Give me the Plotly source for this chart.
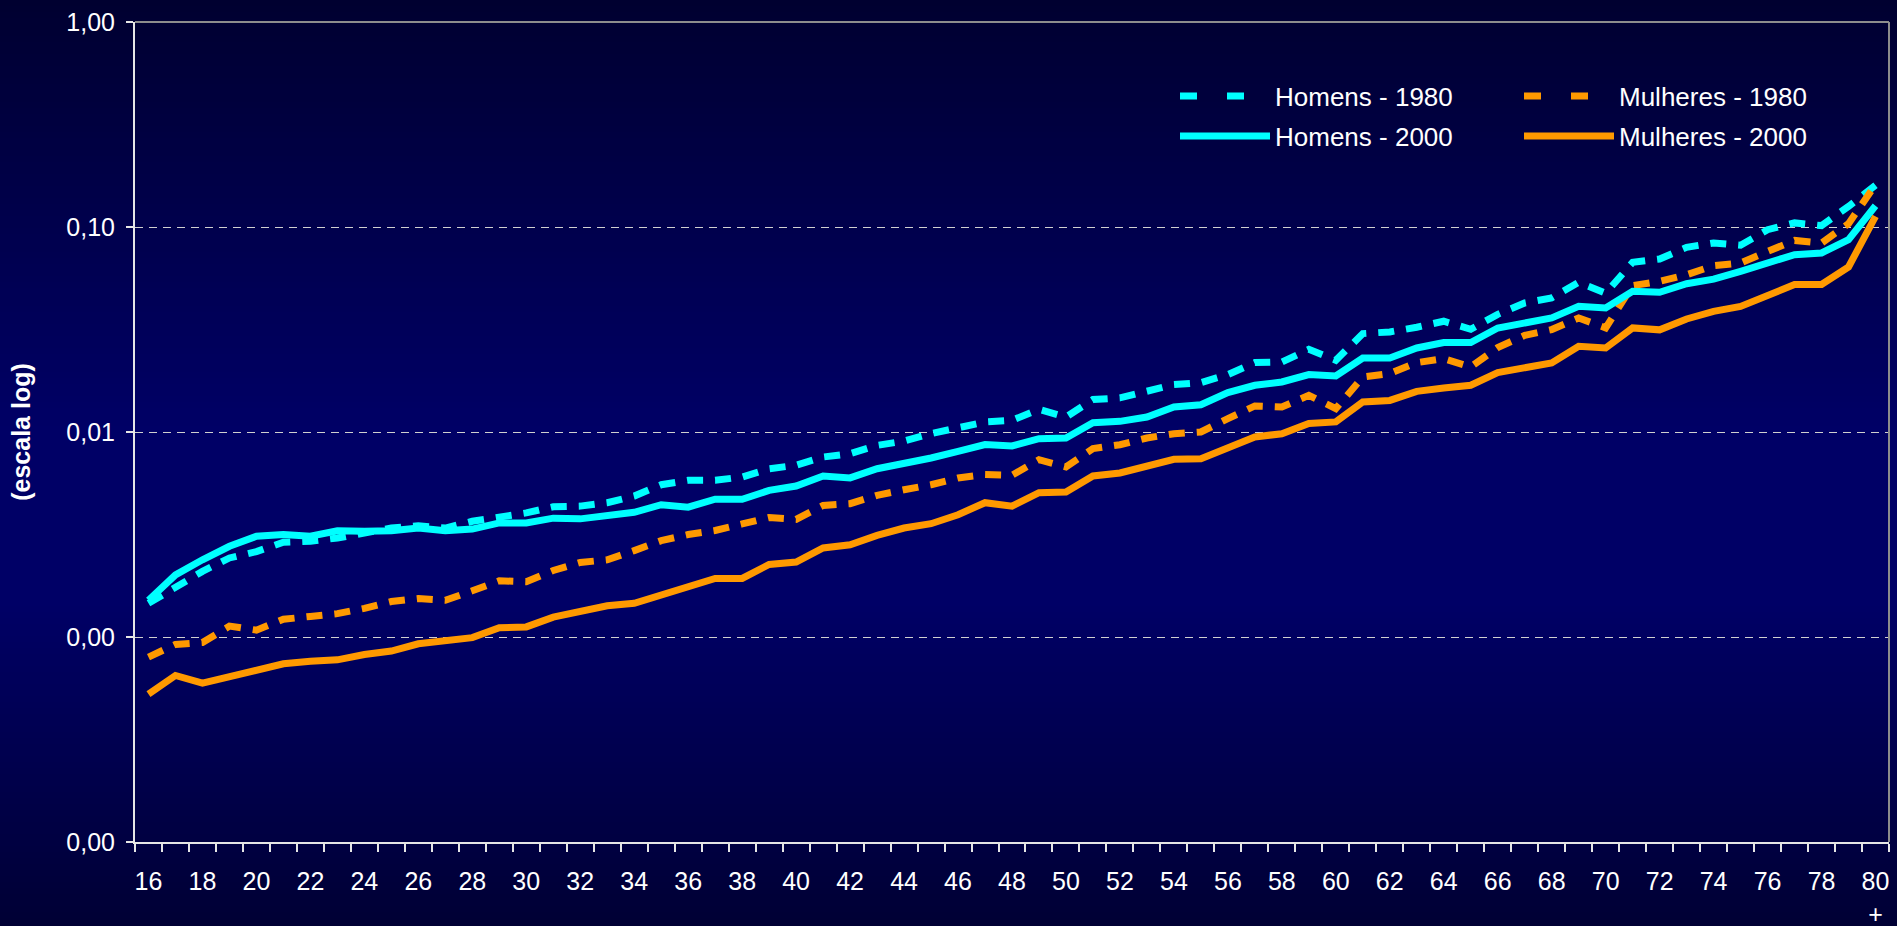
import plotly.graph_objects as go

# ---------------- data ----------------
age_labels = ["16", "17", "18", "19", "20", "21", "22", "23", "24", "25",
              "26", "27", "28", "29", "30", "31", "32", "33", "34", "35",
              "36", "37", "38", "39", "40", "41", "42", "43", "44", "45",
              "46", "47", "48", "49", "50", "51", "52", "53", "54", "55",
              "56", "57", "58", "59", "60", "61", "62", "63", "64", "65",
              "66", "67", "68", "69", "70", "71", "72", "73", "74", "75",
              "76", "77", "78", "79", "80+"]

homens_1980 = [0.00146, 0.00176, 0.00209, 0.00243, 0.00261, 0.00290, 0.00293, 0.00304, 0.00322, 0.00340,
               0.00349, 0.00340, 0.00367, 0.00381, 0.00403, 0.00432, 0.00435, 0.00452, 0.00487, 0.00553,
               0.00581, 0.00581, 0.00603, 0.00662, 0.00688, 0.00755, 0.00784, 0.00860, 0.00903, 0.00982,
               0.01055, 0.01119, 0.01140, 0.01290, 0.01183, 0.01440, 0.01467, 0.01590, 0.01703, 0.01742,
               0.01906, 0.02181, 0.02195, 0.02530, 0.02237, 0.03020, 0.03078, 0.03245, 0.03470, 0.03170,
               0.03750, 0.04260, 0.04510, 0.05370, 0.04760, 0.06720, 0.06980, 0.07960, 0.08360, 0.08150,
               0.09700, 0.10470, 0.10160, 0.12600, 0.16000]

mulheres_1980 = [0.000798, 0.000920, 0.000940, 0.00113, 0.00108, 0.00122, 0.00126, 0.00130, 0.00138, 0.00149,
                 0.00154, 0.00151, 0.00168, 0.00188, 0.00186, 0.00211, 0.00231, 0.00238, 0.00264, 0.00295,
                 0.00316, 0.00331, 0.00356, 0.00383, 0.00375, 0.00438, 0.00447, 0.00491, 0.00523, 0.00553,
                 0.00597, 0.00620, 0.00615, 0.00733, 0.00675, 0.00830, 0.00867, 0.00935, 0.00981, 0.01000,
                 0.01162, 0.01340, 0.01324, 0.01510, 0.01300, 0.01855, 0.01927, 0.02180, 0.02280, 0.02075,
                 0.02580, 0.02960, 0.03160, 0.03600, 0.03220, 0.05180, 0.05430, 0.05850, 0.06470, 0.06670,
                 0.07600, 0.08600, 0.08350, 0.10380, 0.16100]

homens_2000 = [0.00151, 0.00201, 0.00238, 0.00277, 0.00310, 0.00316, 0.00310, 0.00330, 0.00328, 0.00330,
               0.00340, 0.00330, 0.00336, 0.00360, 0.00360, 0.00380, 0.00377, 0.00390, 0.00406, 0.00442,
               0.00430, 0.00470, 0.00470, 0.00519, 0.00545, 0.00610, 0.00597, 0.00662, 0.00701, 0.00747,
               0.00805, 0.00868, 0.00855, 0.00928, 0.00935, 0.01110, 0.01127, 0.01183, 0.01324, 0.01359,
               0.01556, 0.01690, 0.01754, 0.01905, 0.01876, 0.02296, 0.02296, 0.02570, 0.02729, 0.02729,
               0.03216, 0.03400, 0.03600, 0.04100, 0.04030, 0.04860, 0.04800, 0.05290, 0.05570, 0.06080,
               0.06670, 0.07330, 0.07470, 0.08670, 0.12700]

mulheres_2000 = [0.000527, 0.000649, 0.000595, 0.000641, 0.000692, 0.000740, 0.000762, 0.000774, 0.000822, 0.000854,
                 0.000927, 0.000963, 0.000993, 0.00111, 0.00112, 0.00125, 0.00133, 0.00142, 0.00146, 0.00161,
                 0.00175, 0.00193, 0.00193, 0.00226, 0.00232, 0.00272, 0.00282, 0.00313, 0.00340, 0.00357,
                 0.00395, 0.00452, 0.00435, 0.00506, 0.00509, 0.00610, 0.00631, 0.00688, 0.00736, 0.00741,
                 0.00845, 0.00946, 0.00981, 0.01100, 0.01120, 0.01400, 0.01426, 0.01578, 0.01640, 0.01690,
                 0.01950, 0.02050, 0.02170, 0.02620, 0.02570, 0.03220, 0.03150, 0.03560, 0.03880, 0.04100,
                 0.04620, 0.05240, 0.05240, 0.06380, 0.11270]

series_names = ["Homens - 1980", "Mulheres - 1980", "Homens - 2000", "Mulheres - 2000"]
y_tick_vals = [0.0001, 0.001, 0.01, 0.1, 1]
y_tick_text = ["0,00", "0,00", "0,01", "0,10", "1,00"]
y_title = "(escala log)"

# ---------------- layout constants ----------------
W, H = 1897, 926
ML, MR, MT, MB = 135, 8, 22, 84
PW, PH = W - ML - MR, H - MT - MB
FONT = "Liberation Sans, Arial, sans-serif"
CYAN = "#00FFFF"
ORANGE = "#FF9900"

x_ticktext = [(a.replace("+", "<br>+") if i % 2 == 0 else "") for i, a in enumerate(age_labels)]

styles = [
    dict(data=homens_1980, color=CYAN, dash="16px,12px", legend_dash="17px,30px", legend="legend"),
    dict(data=mulheres_1980, color=ORANGE, dash="16px,12px", legend_dash="17px,30px", legend="legend2"),
    dict(data=homens_2000, color=CYAN, dash="solid", legend_dash="solid", legend="legend3"),
    dict(data=mulheres_2000, color=ORANGE, dash="solid", legend_dash="solid", legend="legend4"),
]

fig = go.Figure()
for name, st in zip(series_names, styles):
    fig.add_trace(go.Scatter(
        x=age_labels, y=st["data"], name=name, mode="lines",
        line=dict(color=st["color"], width=7, dash=st["dash"]),
        showlegend=False, legendgroup=name,
    ))
# legend entries (same series, legend sample drawn with the legend's dash style)
for name, st in zip(series_names, styles):
    fig.add_trace(go.Scatter(
        x=[None], y=[None], name=name, mode="lines",
        line=dict(color=st["color"], width=7, dash=st["legend_dash"]),
        legend=st["legend"], legendgroup=name, showlegend=True, hoverinfo="skip",
    ))

# background gradient (dark navy at edges, brighter navy in the middle)
def navy(p):
    stops = [(0, 0x30), (430, 0x66), (600, 0x66), (926, 0x34)]
    for (p0, c0), (p1, c1) in zip(stops[:-1], stops[1:]):
        if p0 <= p <= p1:
            c = c0 + (c1 - c0) * (p - p0) / (p1 - p0)
            return "rgb(0,0,%d)" % round(c)
    return "rgb(0,0,%d)" % stops[-1][1]

def py(p):
    return (H - MB - p) / PH

shapes = []
step = 6
for p in range(0, H, step):
    shapes.append(dict(type="rect", xref="paper", yref="paper",
                       x0=-ML / PW - 0.01, x1=1 + MR / PW + 0.01,
                       y0=py(p + step + 1), y1=py(p),
                       fillcolor=navy(p + step / 2), line=dict(width=0), layer="below"))
# top and right border in gray
shapes.append(dict(type="line", xref="paper", yref="paper", x0=0, x1=1, y0=1, y1=1,
                   line=dict(color="#8C8C8C", width=2), layer="above"))
shapes.append(dict(type="line", xref="paper", yref="paper", x0=1, x1=1, y0=0, y1=1,
                   line=dict(color="#8C8C8C", width=2), layer="above"))

leg_common = dict(bgcolor="rgba(0,0,0,0)", borderwidth=0, itemwidth=90,
                  font=dict(family=FONT, size=26, color="white"),
                  xanchor="left", yanchor="middle", itemclick=False, itemdoubleclick=False)

def lx(px):
    return (px - ML) / PW

fig.update_layout(
    width=W, height=H, autosize=False,
    margin=dict(l=ML, r=MR, t=MT, b=MB, pad=0),
    paper_bgcolor="#000050", plot_bgcolor="rgba(0,0,0,0)",
    font=dict(family=FONT, color="white", size=25),
    showlegend=True,
    shapes=shapes,
    legend=dict(x=lx(1175), y=py(96), **leg_common),
    legend2=dict(x=lx(1519), y=py(96), **leg_common),
    legend3=dict(x=lx(1175), y=py(136), **leg_common),
    legend4=dict(x=lx(1519), y=py(136), **leg_common),
    xaxis=dict(
        type="category", range=[-0.5, len(age_labels) - 0.5], automargin=False,
        tickmode="array", tickvals=age_labels, ticktext=x_ticktext,
        tickson="boundaries", ticks="outside", ticklen=8, tickwidth=1.5, tickcolor="#E6E6E6",
        showline=True, linecolor="#E6E6E6", linewidth=2,
        showgrid=False, zeroline=False, tickangle=0,
        tickfont=dict(family=FONT, size=25, color="white"),
        ticklabelstandoff=16,
    ),
    yaxis=dict(
        type="log", range=[-4, 0], automargin=False,
        tickmode="array", tickvals=y_tick_vals, ticktext=y_tick_text,
        ticks="outside", ticklen=7, tickwidth=1.5, tickcolor="#E6E6E6",
        showline=True, linecolor="#E6E6E6", linewidth=2,
        showgrid=True, gridcolor="#D0D0D0", gridwidth=1, griddash="8px,6px",
        zeroline=False,
        tickfont=dict(family=FONT, size=25, color="white"),
        ticklabelstandoff=6,
        title=dict(text="<b>" + y_title + "</b>", font=dict(family=FONT, size=25, color="white"),
                   standoff=29),
    ),
)

fig.write_html("out.html", config={"displayModeBar": False},
               post_script="document.body.style.margin='0';document.body.style.overflow='hidden';")
